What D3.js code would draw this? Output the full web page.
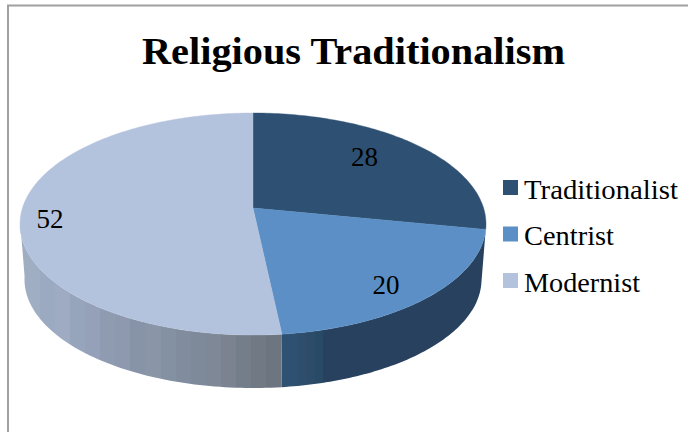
<!DOCTYPE html>
<html><head><meta charset="utf-8">
<script src="https://cdn.jsdelivr.net/npm/d3@7"></script>
<style>html,body{margin:0;padding:0;background:#fff}svg{display:block}text{font-family:"Liberation Serif",serif;fill:#000}</style>
</head><body><div id="c"></div>
<script>
const categories = ["Traditionalist","Centrist","Modernist"];
const values = [28,20,52];
const topColors = ["#2e5073","#5b8fc5","#b4c3dd"];
const title = "Religious Traditionalism";
const centristWall = ["#2f5273","#2e5071","#2f4d6c","#2c4c6a","#294a66","#27415f"];
const modernistWall = ["#a0aec4","#9baac0","#9eabc2","#96a5bb","#95a1b9","#8e9bb0","#8e99af","#8794a7","#8b95a8","#8391a3","#818d9f","#7e8a9a","#7f8896","#7a838f","#747e8b","#717985","#6d7680"];

const W=688,H=432;
const svg=d3.select("#c").append("svg").attr("width",W).attr("height",H);
svg.append("rect").attr("width",W).attr("height",H).attr("fill","#fff");
svg.append("path").attr("d","M8,432V5.5H688").attr("fill","none").attr("stroke","#a0a0a0").attr("stroke-width",2);

const deg=d=>d*Math.PI/180;
const pie=d3.pie().value(d=>d).sort(null);
const arcs=pie(values);
// small warp of the slice angles caused by the chart's 3D perspective
const warp=d3.scaleLinear()
  .domain([0,arcs[1].startAngle,arcs[2].startAngle,2*Math.PI])
  .range([0,arcs[1].startAngle,arcs[2].startAngle+deg(1),2*Math.PI]);
function projector(cx,cy,A,B,g){
  const k=-g, a=A*Math.sqrt(1-g*g), c=g*B;
  return t0=>{const t=warp(t0),u=Math.sin(t),v=-Math.cos(t),d=1-k*v;
    return [cx+a*u/d, cy+(B*v+c)/d];};
}
const topP=projector(253,224,233,111,-0.14);
const botP=projector(253,279.5,228.5,108.5,-0.14);
const apex=[253,208];
const line=d3.line();
const defs=svg.append("defs");

function stepGradient(id,x0,x1,cols){
  const g=defs.append("linearGradient").attr("id",id).attr("gradientUnits","userSpaceOnUse")
    .attr("x1",x0).attr("x2",x1).attr("y1",0).attr("y2",0);
  const n=cols.length;
  cols.forEach((c,i)=>{
    g.append("stop").attr("offset",i/n).attr("stop-color",c);
    g.append("stop").attr("offset",(i+1)/n).attr("stop-color",c);
  });
}
function wall(t0,t1,id){
  const n=80, ts=d3.range(n+1).map(i=>t0+(t1-t0)*i/n);
  const pts=ts.map(topP).concat(ts.slice().reverse().map(botP));
  svg.append("path").attr("d",line(pts)+"Z").attr("fill",`url(#${id})`);
}
const split=arcs[2].startAngle;
const modEnd=deg(263);
stepGradient("gc",botP(split)[0],botP(split)[0]+50,centristWall);
stepGradient("gm",botP(modEnd)[0],botP(split)[0],modernistWall);
wall(arcs[1].startAngle,split,"gc");
wall(split,modEnd,"gm");

arcs.forEach((d,i)=>{
  const n=Math.ceil((d.endAngle-d.startAngle)/deg(1));
  const pts=d3.range(n+1).map(j=>topP(d.startAngle+(d.endAngle-d.startAngle)*j/n));
  svg.append("path").attr("d",line([apex].concat(pts))+"Z")
    .attr("fill",topColors[i]).attr("stroke",topColors[i]).attr("stroke-width",0.4);
});

const labelX=[364.5,386,50], labelY=[166,294,228];
values.forEach((v,i)=>{
  svg.append("text").attr("x",labelX[i]).attr("y",labelY[i]).attr("text-anchor","middle")
    .attr("font-size",27).text(v);
});

svg.append("text").attr("x",353.5).attr("y",63.5).attr("text-anchor","middle")
  .attr("font-size",38).attr("font-weight","bold").attr("textLength",423).attr("lengthAdjust","spacingAndGlyphs").text(title);

const ly=d3.scalePoint().domain(categories).range([187.5,280.5]);
const legendWidths=[154,90,116];
categories.forEach((c,i)=>{
  svg.append("rect").attr("x",503).attr("y",ly(c)-7.5).attr("width",15).attr("height",15).attr("fill",topColors[i]);
  svg.append("text").attr("x",524).attr("y",ly(c)+11).attr("font-size",28)
    .attr("textLength",legendWidths[i]).attr("lengthAdjust","spacingAndGlyphs").text(c);
});
</script></body></html>
